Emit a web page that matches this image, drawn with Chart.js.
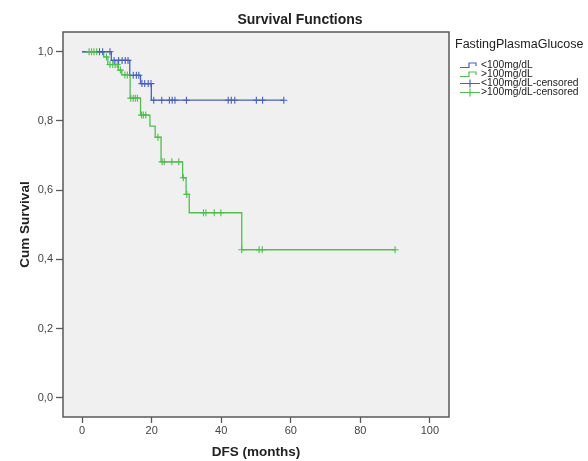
<!DOCTYPE html>
<html>
<head>
<meta charset="utf-8">
<script src="https://cdn.jsdelivr.net/npm/chart.js@4/dist/chart.umd.min.js"></script>
<style>
  html, body { margin: 0; padding: 0; background: #fff; }
  canvas { display: block; }
</style>
</head>
<body>
<canvas id="km" width="588" height="461"></canvas>
<script>
const X_TICKS = [0, 20, 40, 60, 80, 100];
const Y_TICKS = [0, 0.2, 0.4, 0.6, 0.8, 1.0];

const GROUPS = ['<100mg/dL', '>100mg/dL'];

// <100 mg/dL : step times (months) and cumulative survival after each step
const lowTimes    = [0,   8.4,   13.7,  16.8,  19.9,  58.0];
const lowSurv     = [1.0, 0.975, 0.932, 0.908, 0.860, 0.860];
const lowCensored = [5.0, 5.9, 8.0, 9.2, 10.5, 11.5, 12.4, 13.2, 14.7, 15.6, 16.3,
                     17.2, 18.0, 19.0, 19.8, 20.6, 22.9, 25.1, 25.9, 26.7, 30.0,
                     42.0, 42.9, 43.9, 50.1, 51.9, 58.0];

// >100 mg/dL
const highTimes    = [0,   6.2,   7.4,   10.4,  11.4,  13.8,  16.8,  19.5,  21.0,
                      22.7,  28.9,  29.9,  30.8,  45.9,  90.0];
const highSurv     = [1.0, 0.985, 0.963, 0.947, 0.933, 0.866, 0.817, 0.785, 0.753,
                      0.682, 0.636, 0.588, 0.535, 0.428, 0.428];
const highCensored = [2.0, 2.7, 3.4, 4.2, 7.0, 8.0, 8.8, 9.5, 10.1, 11.0, 12.3, 13.0,
                      14.0, 14.7, 15.3, 15.9, 17.1, 17.6, 18.3, 21.8, 23.0, 23.6,
                      25.8, 27.8, 29.1, 30.1, 34.9, 35.6, 38.0, 39.9, 45.9, 50.9,
                      51.8, 90.0];

const BLUE  = '#4860bd';
const GREEN = '#52bd52';
const FONT  = "'Liberation Sans', Arial, sans-serif";

// survival value of the step curve at time t (where a censor mark sits)
function survAt(times, surv, t) {
  let s = surv[0];
  for (let i = 0; i < times.length; i++) if (times[i] <= t) s = surv[i];
  return s;
}

function steps(times, surv) {
  return times.map((t, i) => ({ x: t, y: surv[i] }));
}

function marks(times, surv, cens) {
  return cens.map(t => ({ x: t, y: survAt(times, surv, t) }));
}

const decor = {
  id: 'decor',
  beforeDraw(chart) {
    const { ctx, chartArea: a } = chart;
    ctx.save();
    ctx.fillStyle = '#f0f0f0';
    ctx.fillRect(a.left, a.top, a.right - a.left, a.bottom - a.top);
    ctx.restore();
  },
  afterDraw(chart) {
    const { ctx, chartArea: a } = chart;
    ctx.save();
    ctx.strokeStyle = '#5a5a5a';
    ctx.lineWidth = 1.5;
    ctx.strokeRect(a.left, a.top, a.right - a.left, a.bottom - a.top);

    ctx.fillStyle = '#222';
    ctx.font = 'bold 14px ' + FONT;
    ctx.textAlign = 'center';
    ctx.textBaseline = 'middle';
    ctx.fillText('Survival Functions', 300, 20);

    // legend
    ctx.textAlign = 'left';
    ctx.font = '12.5px ' + FONT;
    ctx.fillText('FastingPlasmaGlucose', 455, 45);

    const items = [
      { label: GROUPS[0], color: BLUE,  kind: 'step' },
      { label: GROUPS[1], color: GREEN, kind: 'step' },
      { label: GROUPS[0] + '-censored', color: BLUE,  kind: 'cross' },
      { label: GROUPS[1] + '-censored', color: GREEN, kind: 'cross' },
    ];
    ctx.font = '10.3px ' + FONT;
    items.forEach((it, i) => {
      const y = 65.5 + i * 9;
      ctx.strokeStyle = it.color;
      ctx.lineWidth = 1.2;
      ctx.beginPath();
      if (it.kind === 'step') {
        ctx.moveTo(460, y + 2);
        ctx.lineTo(469, y + 2);
        ctx.lineTo(469, y - 2.5);
        ctx.lineTo(476, y - 2.5);
        ctx.lineTo(476, y + 0.5);
      } else {
        ctx.moveTo(460, y);
        ctx.lineTo(480, y);
        ctx.moveTo(470, y - 4);
        ctx.lineTo(470, y + 4);
      }
      ctx.stroke();
      ctx.fillStyle = '#222';
      ctx.fillText(it.label, 481, y);
    });
    ctx.restore();
  }
};

new Chart(document.getElementById('km'), {
  type: 'line',
  data: {
    datasets: [
      { label: GROUPS[0], data: steps(lowTimes, lowSurv), stepped: true,
        borderColor: BLUE, borderWidth: 1.3, pointRadius: 0, fill: false, order: 2 },
      { label: GROUPS[1], data: steps(highTimes, highSurv), stepped: true,
        borderColor: GREEN, borderWidth: 1.3, pointRadius: 0, fill: false, order: 3 },
      { label: GROUPS[0] + '-censored', type: 'scatter', data: marks(lowTimes, lowSurv, lowCensored),
        pointStyle: 'cross', pointRadius: 3.5, borderColor: BLUE, borderWidth: 1.1, order: 0 },
      { label: GROUPS[1] + '-censored', type: 'scatter', data: marks(highTimes, highSurv, highCensored),
        pointStyle: 'cross', pointRadius: 3.5, borderColor: GREEN, borderWidth: 1.1, order: 1 },
    ]
  },
  options: {
    responsive: false,
    animation: false,
    layout: { padding: { top: 32, right: 139, left: 0, bottom: 0 } },
    plugins: {
      legend: { display: false },
      tooltip: { enabled: false },
      title: { display: false },
    },
    scales: {
      x: {
        type: 'linear',
        min: -5.5,
        max: 105.5,
        afterBuildTicks: s => { s.ticks = X_TICKS.map(v => ({ value: v })); },
        afterFit: s => { s.height = 44; },
        grid: { drawOnChartArea: false, drawTicks: true, tickLength: 6, tickColor: '#5a5a5a', tickWidth: 1.3 },
        border: { display: false },
        ticks: { padding: 1, color: '#444', font: { family: FONT, size: 11 }, maxRotation: 0 },
        title: { display: true, text: 'DFS (months)', color: '#222',
                 font: { family: FONT, size: 13.5, weight: 'bold' }, padding: { top: 0, bottom: 1 } },
      },
      y: {
        type: 'linear',
        min: -0.055,
        max: 1.057,
        afterBuildTicks: s => { s.ticks = Y_TICKS.map(v => ({ value: v })); },
        afterFit: s => { s.width = 63; },
        grid: { drawOnChartArea: false, drawTicks: true, tickLength: 7, tickColor: '#5a5a5a', tickWidth: 1.3 },
        border: { display: false },
        ticks: { padding: 3, color: '#444', font: { family: FONT, size: 11 },
                 callback: v => v.toFixed(1).replace('.', ',') },
        title: { display: true, text: 'Cum Survival', color: '#222',
                 font: { family: FONT, size: 13.5, weight: 'bold' }, padding: { top: 17, bottom: 0 } },
      }
    }
  },
  plugins: [decor]
});
</script>
</body>
</html>
